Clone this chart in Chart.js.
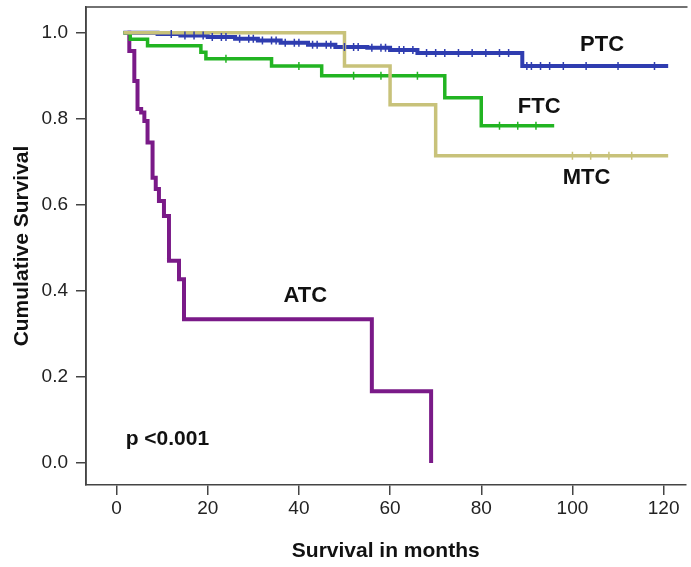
<!DOCTYPE html>
<html>
<head>
<meta charset="utf-8">
<script src="https://cdn.jsdelivr.net/npm/chart.js@4/dist/chart.umd.min.js"></script>
<style>
  html, body { margin: 0; padding: 0; background: #ffffff; }
  #wrap { width: 691px; height: 567px; position: relative; }
</style>
</head>
<body>
<div id="wrap"><canvas id="km" width="691" height="567"></canvas></div>
<script>
// Kaplan–Meier survival by thyroid cancer histology.
// Each curve: event times (months) and the survival just after each time.
const ptcTimes = [1.5, 9, 14, 20, 26, 31, 36, 42, 48, 55, 60, 66, 89, 121];
const ptcSurv  = [1.0, 0.997, 0.994, 0.990, 0.986, 0.982, 0.977, 0.972, 0.967, 0.965, 0.960, 0.953, 0.923, 0.923];

const ftcTimes = [1.5, 3, 6.8, 18.5, 19.6, 34, 45, 72, 80, 96];
const ftcSurv  = [1.0, 0.985, 0.970, 0.955, 0.940, 0.923, 0.900, 0.849, 0.784, 0.784];

const mtcTimes = [1.5, 50, 60, 70, 121];
const mtcSurv  = [1.0, 0.923, 0.833, 0.714, 0.714];

const atcTimes = [2.4, 2.8, 3.9, 4.6, 5.4, 6.1, 6.8, 7.9, 8.6, 9.3, 10.4, 11.5, 13.7, 14.8, 56, 69];
const atcSurv  = [1.0, 0.958, 0.888, 0.823, 0.815, 0.795, 0.745, 0.663, 0.637, 0.609, 0.574, 0.470, 0.427, 0.334, 0.167, 0.0];

// Censored observations (months)
const ptcCensored = [12, 15, 17, 19, 21, 23, 24, 27, 29, 30, 32, 34, 35, 37, 39, 40, 43, 44, 46, 47, 50, 52, 53, 56, 58, 59, 62, 63, 65, 68, 70, 72, 75, 78, 81, 84, 86, 90, 91, 93, 95, 98, 103, 110, 118];
const ftcCensored = [24, 40, 52, 58, 66, 84, 88, 92];
const mtcCensored = [100, 104, 108, 113];

const xTicks = [0, 20, 40, 60, 80, 100, 120];
const yTicks = [0.0, 0.2, 0.4, 0.6, 0.8, 1.0];

const curveLabels = [
  { text: 'PTC', x: 106.5, y: 0.972 },
  { text: 'FTC', x: 92.7, y: 0.828 },
  { text: 'MTC', x: 103.1, y: 0.663 },
  { text: 'ATC', x: 41.4, y: 0.388 },
];

const FONT = '"Liberation Sans", Arial, sans-serif';

function steps(times, surv) {
  return times.map((t, i) => ({ x: t, y: surv[i] }));
}
function survAt(times, surv, t) {
  let s = surv[0];
  for (let i = 0; i < times.length; i++) { if (times[i] <= t) s = surv[i]; }
  return s;
}
function censorPoints(cens, times, surv) {
  return cens.map(t => ({ x: t, y: survAt(times, surv, t) }));
}

const colPTC = '#2f3db0';
const colFTC = '#22b422';
const colMTC = '#c8c27a';
const colATC = '#7a1a88';

function curve(label, data, color, w) {
  return { type: 'line', label, data, borderColor: color, backgroundColor: color,
           borderWidth: w, stepped: true, pointRadius: 0, fill: false, order: 2 };
}
function censor(data, color) {
  return { type: 'scatter', data, borderColor: color, backgroundColor: color,
           pointStyle: 'line', rotation: 90, radius: 4, borderWidth: 1.5, order: 1 };
}

const frameAndText = {
  id: 'frameAndText',
  afterDatasetsDraw(chart) {
    const { ctx, chartArea: a, scales } = chart;
    ctx.save();
    ctx.strokeStyle = '#444';
    ctx.lineWidth = 1.5;
    ctx.beginPath();
    ctx.moveTo(a.left, a.bottom);
    ctx.lineTo(a.left, a.top);
    ctx.lineTo(a.right + 2, a.top);
    ctx.stroke();
    ctx.fillStyle = '#111';
    ctx.textAlign = 'center';
    ctx.textBaseline = 'middle';
    ctx.font = 'bold 22px ' + FONT;
    curveLabels.forEach(l => {
      ctx.fillText(l.text, scales.x.getPixelForValue(l.x), scales.y.getPixelForValue(l.y));
    });
    ctx.font = 'bold 21px ' + FONT;
    ctx.textAlign = 'left';
    ctx.fillText('p <0.001', scales.x.getPixelForValue(2), scales.y.getPixelForValue(0.055));
    ctx.restore();
  }
};

new Chart(document.getElementById('km'), {
  data: {
    datasets: [
      curve('MTC', steps(mtcTimes, mtcSurv), colMTC, 3.5),
      curve('FTC', steps(ftcTimes, ftcSurv), colFTC, 3.5),
      curve('PTC', steps(ptcTimes, ptcSurv), colPTC, 4),
      curve('ATC', steps(atcTimes, atcSurv), colATC, 4),
      censor(censorPoints(ptcCensored, ptcTimes, ptcSurv), colPTC),
      censor(censorPoints(ftcCensored, ftcTimes, ftcSurv), colFTC),
      censor(censorPoints(mtcCensored, mtcTimes, mtcSurv), colMTC),
    ]
  },
  options: {
    responsive: false,
    animation: false,
    devicePixelRatio: 1,
    layout: { padding: { top: 7, right: 0, left: 0, bottom: 0 } },
    plugins: { legend: { display: false }, tooltip: { enabled: false } },
    scales: {
      x: {
        type: 'linear', min: -6.7, max: 124.8,
        afterBuildTicks: s => { s.ticks = xTicks.map(v => ({ value: v })); },
        afterFit: s => { s.height = 82; s.paddingLeft = 0; s.paddingRight = 0; },
        grid: { drawOnChartArea: false, drawTicks: true, tickLength: 10, color: '#444', lineWidth: 1.5 },
        border: { display: true, color: '#444', width: 1.5 },
        ticks: { color: '#222', font: { family: FONT, size: 19 }, padding: 2, maxRotation: 0 },
        title: { display: true, text: 'Survival in months', color: '#111',
                 font: { family: FONT, size: 21, weight: 'bold' }, padding: { top: 8, bottom: 3 } }
      },
      y: {
        type: 'linear', min: -0.051, max: 1.06,
        afterBuildTicks: s => { s.ticks = yTicks.map(v => ({ value: v })); },
        afterFit: s => { s.width = 86; s.paddingTop = 0; s.paddingBottom = 0; },
        grid: { drawOnChartArea: false, drawTicks: true, tickLength: 10, color: '#444', lineWidth: 1.5 },
        border: { display: true, color: '#444', width: 1.5 },
        ticks: { color: '#222', font: { family: FONT, size: 19 }, padding: 8,
                 callback: v => v.toFixed(1) },
        title: { display: true, text: 'Cumulative Survival', color: '#111',
                 font: { family: FONT, size: 21, weight: 'bold' }, padding: { top: 10, bottom: 0 } }
      }
    }
  },
  plugins: [frameAndText]
});
</script>
</body>
</html>
